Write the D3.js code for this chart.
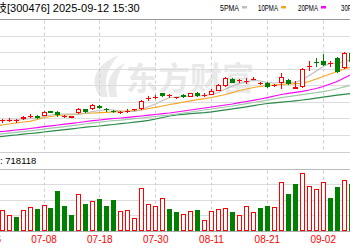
<!DOCTYPE html>
<html>
<head>
<meta charset="utf-8">
<script src="https://cdn.jsdelivr.net/npm/d3@7"></script>
<style>
  body { margin: 0; background: #fff; }
  svg { display: block; }
  text { font-family: "Liberation Sans", "Noto Sans CJK SC", sans-serif; }
</style>
</head>
<body>
<svg id="chart" width="350" height="250"></svg>
<script>
// trading days shown (the picture is a crop of a wider chart)
const dates = [
  "06-26","06-27","06-30","07-01","07-02","07-03","07-04","07-07","07-08","07-09",
  "07-10","07-11","07-14","07-15","07-16","07-17","07-18","07-21","07-22","07-23",
  "07-24","07-25","07-28","07-29","07-30","07-31","08-01","08-04","08-05","08-06",
  "08-07","08-08","08-11","08-12","08-13","08-14","08-15","08-18","08-19","08-20",
  "08-21","08-22","08-25","08-26","08-27","08-28","08-29","09-01","09-02","09-03",
  "09-04","09-05","09-08"
];

const openP = [89.1,90.6,90.6,93.6,90.6,97.2,103.2,105.7,107.2,120.8,
  120.2,103.2,102.6,115.3,127.4,126.8,137.4,126.8,121.7,117.1,
  121.4,123.8,127.4,159.1,162.1,175.7,166.6,161.5,170.6,165.4,
  175.7,169.7,170.6,183.6,197.7,218.0,212.8,211.9,218.0,205.0,
  207.7,196.8,207.7,215.9,189.3,194.7,255.1,268.7,274.7,263.3,
  282.3,252.1,297.4];
const highP = [95.1,96.6,98.1,101.1,98.1,105.7,113.2,108.7,122.3,122.3,
  122.3,108.7,107.2,132.2,129.8,141.9,140.4,130.4,123.8,123.2,
  126.8,128.3,155.5,167.6,169.1,178.1,172.1,166.0,172.1,176.6,
  180.5,175.1,187.8,202.3,224.9,221.9,218.9,221.0,225.8,211.3,
  209.8,202.3,236.1,217.4,212.8,250.6,273.2,280.8,295.0,273.2,
  285.3,300.4,306.4];
const lowP = [86.0,87.5,86.0,89.1,87.5,95.1,101.1,98.1,105.7,116.2,
  103.2,101.1,101.1,114.7,116.2,125.3,128.3,119.2,116.2,112.3,
  117.7,122.3,125.3,153.4,158.5,166.0,163.0,158.5,161.5,164.5,
  166.0,166.0,169.1,182.6,196.2,206.8,208.3,203.8,214.9,200.8,
  191.7,194.7,188.7,200.8,187.2,193.2,243.0,255.1,259.6,256.6,
  235.5,249.1,264.2];
const closeP = [92.1,93.6,93.6,96.6,95.1,103.2,107.2,101.1,120.2,117.7,
  110.2,106.3,105.7,128.3,119.2,140.4,130.4,123.8,119.2,119.2,
  123.2,126.8,153.4,161.5,164.5,168.5,169.1,163.6,163.6,175.7,
  167.6,171.5,183.6,200.8,222.8,208.3,214.9,213.7,219.8,206.8,
  195.6,199.9,223.4,202.3,194.7,248.2,258.1,265.7,262.0,265.7,
  240.0,296.5,270.2];

const volume = [420000,390000,404000,313000,275000,404000,467000,423000,506000,437000,
  769000,487000,302000,712000,525000,583000,610000,475000,596000,385000,
  404000,250000,821000,513000,481000,635000,423000,365000,333000,385000,
  410000,212000,385000,429000,442000,371000,308000,475000,365000,442000,
  475000,456000,942000,717000,904000,1115000,871000,808000,937000,635000,
  840000,981000,904000];
// 1 = up day (red), 0 = down day (green), as coloured in the volume panel
const volUp = [1,1,1,1,0,1,1,0,1,0,
  0,0,0,1,0,1,0,0,0,1,
  1,1,1,1,1,1,0,0,1,1,
  0,1,1,1,1,0,1,1,1,0,
  0,1,1,0,0,1,1,1,1,0,
  0,1,0];

const ma5 = [92.1,92.1,93.6,95.1,95.1,96.6,99.6,101.1,105.7,110.2,
  113.2,113.2,113.2,111.7,116.2,120.8,123.8,126.8,125.3,122.3,
  120.8,120.8,126.8,135.9,143.4,154.0,163.0,164.5,166.0,167.6,
  167.6,169.1,172.1,178.1,188.7,197.7,205.3,211.3,214.3,212.8,
  208.3,206.8,208.3,209.8,208.3,217.4,229.4,243.0,256.6,265.7,
  267.2,271.7,276.2];
const ma10 = [74.0,77.0,80.0,83.0,86.0,89.1,91.2,96.6,102.6,105.7,
  108.7,110.2,111.7,113.2,114.7,116.2,117.1,118.3,119.9,121.4,
  122.3,123.8,125.3,129.8,133.4,137.4,141.9,145.5,149.4,153.1,
  156.4,159.4,163.0,167.6,172.1,177.5,184.2,188.7,193.2,196.2,
  198.6,200.8,202.9,203.8,204.7,205.9,211.3,218.9,226.4,234.0,
  241.5,249.1,255.1];
const ma20 = [55.9,58.3,60.4,62.5,64.9,67.0,69.4,71.9,74.9,77.6,
  80.0,82.4,85.1,87.5,90.6,93.0,95.1,97.5,99.6,101.1,
  103.2,105.1,107.2,109.6,111.7,114.1,116.2,119.2,122.3,125.3,
  128.3,131.3,134.3,137.4,140.4,143.4,147.3,150.9,154.6,158.5,
  162.4,167.6,172.1,175.7,178.7,181.7,185.7,190.2,196.2,203.8,
  211.3,221.9,232.5];
const ma30 = [49.0,51.2,53.3,55.4,57.8,59.9,62.3,64.8,67.8,70.5,
  72.9,75.3,78.0,80.5,83.8,86.5,88.8,91.3,93.5,95.0,
  97.2,99.1,101.2,103.6,105.7,108.1,110.2,113.2,116.2,119.3,
  122.3,125.3,128.3,131.4,134.4,137.4,141.0,144.5,148.0,151.5,
  155.0,159.0,162.5,165.5,168.5,171.5,174.5,177.5,181.0,185.0,
  189.5,195.0,200.5];
const ma60 = [42.3,43.8,45.3,47.7,49.8,52.2,54.3,56.5,58.9,61.3,
  63.7,66.1,68.5,70.9,73.4,75.5,77.0,79.4,81.5,83.9,
  86.0,88.5,91.2,94.2,98.1,102.6,107.2,110.2,112.3,114.1,
  115.6,117.4,119.9,122.9,125.9,128.9,131.9,134.9,138.3,141.9,
  144.9,147.0,148.8,150.9,153.1,155.5,157.9,160.9,163.9,166.9,
  170.0,172.7,175.1];

const tickDates = ["06-26","07-08","07-18","07-30","08-11","08-21","09-02"];
const priceTicks = [50,100,150,200,250,300,350];
const volTicks = [300000,600000,900000];

const title = "胜宏科技[300476] 2025-09-12 15:30";
const volLabel = "成交量: 718118";
const legendNames = ["5PMA","10PMA","20PMA","30PMA","60PMA"];
const legendColors = ["#bdbdbd","#f5a623","#ff00ff","#9fc9a8","#2a8a4a"];

const RED = "#ff0000", GREEN = "#008000";

const svg = d3.select('#chart');

const step = 6.98;
const x = d3.scaleBand().domain(dates).range([-15.33, -15.33 + step * dates.length]);
const cx = d => Math.floor(x(d) + x.bandwidth() / 2) + 0.5;

const y = d3.scaleLinear().domain([0, 400]).range([151.5, 19]);
const yv = d3.scaleLinear().domain([0, 1200000]).range([231, 168.6]);
const snap = v => Math.round(v) + 0.5;

// watermark
const wm = svg.append('g').attr('fill', '#e9e9e9');
wm.append('path').attr('d', 'M101 97 C89 84 93 65 119 55 C107 68 103 80 108 97 Z');
wm.append('path').attr('d', 'M110 97 C105 84 110 70 125 63 C117 74 115 85 117 97 Z');
wm.append('text').attr('x', 126).attr('y', 90)
  .attr('font-size', 32).attr('font-weight', 'bold')
  .attr('font-family', '"Noto Sans CJK SC", sans-serif')
  .text('东方财富');

// horizontal grid, price panel
svg.append('g').selectAll('line').data(priceTicks).enter().append('line')
  .attr('x1', 0).attr('x2', 350)
  .attr('y1', d => snap(y(d))).attr('y2', d => snap(y(d)))
  .attr('stroke', '#dcdcdc');

// horizontal grid, volume panel
svg.append('g').selectAll('line').data(volTicks).enter().append('line')
  .attr('x1', 0).attr('x2', 350)
  .attr('y1', d => snap(yv(d))).attr('y2', d => snap(yv(d)))
  .attr('stroke', '#dcdcdc');

// frame lines
[[y(400), '#999'], [y(0), '#cfcfcf'], [yv(1200000), '#bbb'], [yv(0), '#aaa']].forEach(([v, c]) => {
  svg.append('line').attr('x1', 0).attr('x2', 350)
    .attr('y1', snap(v)).attr('y2', snap(v)).attr('stroke', c);
});

// vertical dashed grid
const vg = svg.append('g').attr('stroke', '#cccccc').attr('stroke-dasharray', '3,3');
tickDates.forEach(d => {
  vg.append('line').attr('x1', cx(d)).attr('x2', cx(d)).attr('y1', snap(y(400)) + 1).attr('y2', snap(y(0)) - 1);
  vg.append('line').attr('x1', cx(d)).attr('x2', cx(d)).attr('y1', snap(yv(1200000)) + 1).attr('y2', snap(yv(0)) - 1);
});

// moving averages
const maSeries = [ma60, ma30, ma20, ma10, ma5];
const maColors = [legendColors[4], legendColors[3], legendColors[2], legendColors[1], legendColors[0]];
maSeries.forEach((s, k) => {
  const line = d3.line().x((v, i) => x(dates[i]) + x.bandwidth() / 2).y(v => y(v));
  svg.append('path').datum(s).attr('d', line)
    .attr('fill', 'none').attr('stroke', maColors[k]).attr('stroke-width', 1.2);
});

// candles
const candles = svg.append('g');
dates.forEach((d, i) => {
  const up = closeP[i] >= openP[i];
  const col = up ? RED : GREEN;
  const px = cx(d);
  candles.append('line').attr('x1', px).attr('x2', px)
    .attr('y1', Math.round(y(highP[i]))).attr('y2', Math.round(y(lowP[i])))
    .attr('stroke', col);
  const top = Math.round(y(Math.max(openP[i], closeP[i])));
  const bot = Math.round(y(Math.min(openP[i], closeP[i])));
  const h = Math.max(1, bot - top);
  if (up && h > 2) {
    candles.append('rect').attr('x', px - 2).attr('y', top + 0.5)
      .attr('width', 4).attr('height', h - 1)
      .attr('fill', '#fff').attr('stroke', col);
  } else {
    candles.append('rect').attr('x', px - 2.5).attr('y', top)
      .attr('width', 5).attr('height', h).attr('fill', col);
  }
});

// volume bars
const vols = svg.append('g');
dates.forEach((d, i) => {
  const px = cx(d);
  const top = Math.round(yv(volume[i]));
  const base = Math.round(yv(0));
  if (volUp[i]) {
    vols.append('rect').attr('x', px - 2).attr('y', top + 0.5)
      .attr('width', 4).attr('height', base - top - 1)
      .attr('fill', '#fff').attr('stroke', RED);
  } else {
    vols.append('rect').attr('x', px - 2.5).attr('y', top)
      .attr('width', 5).attr('height', base - top).attr('fill', GREEN);
  }
});

// x axis labels
const xAxis = d3.axisBottom(x).tickValues(tickDates).tickSize(0).tickPadding(0);
const gx = svg.append('g').attr('transform', 'translate(0,' + 236 + ')').call(xAxis);
gx.select('.domain').remove();
gx.selectAll('text').attr('fill', RED).attr('font-size', 10)
  .attr('font-family', '"Liberation Sans", sans-serif').attr('dy', '0.71em');

// header
svg.append('text').attr('x', -37).attr('y', 11.5).attr('font-size', 11).attr('fill', '#000').text(title);

const legendX = [220, 258, 298, 341, 381];
const legendW = [19, 20, 20, 20, 20];
legendNames.forEach((n, k) => {
  svg.append('text').attr('x', legendX[k]).attr('y', 10.5).attr('font-size', 9.5)
    .attr('textLength', legendW[k]).attr('lengthAdjust', 'spacingAndGlyphs')
    .attr('fill', '#000').text(n);
  svg.append('rect').attr('x', legendX[k] + legendW[k] + 3).attr('y', 6)
    .attr('width', 5).attr('height', 2.5).attr('fill', legendColors[k]);
});

// volume label
svg.append('text').attr('x', -28.5).attr('y', 164).attr('font-size', 9.5).attr('fill', '#000').text(volLabel);
</script>
</body>
</html>
